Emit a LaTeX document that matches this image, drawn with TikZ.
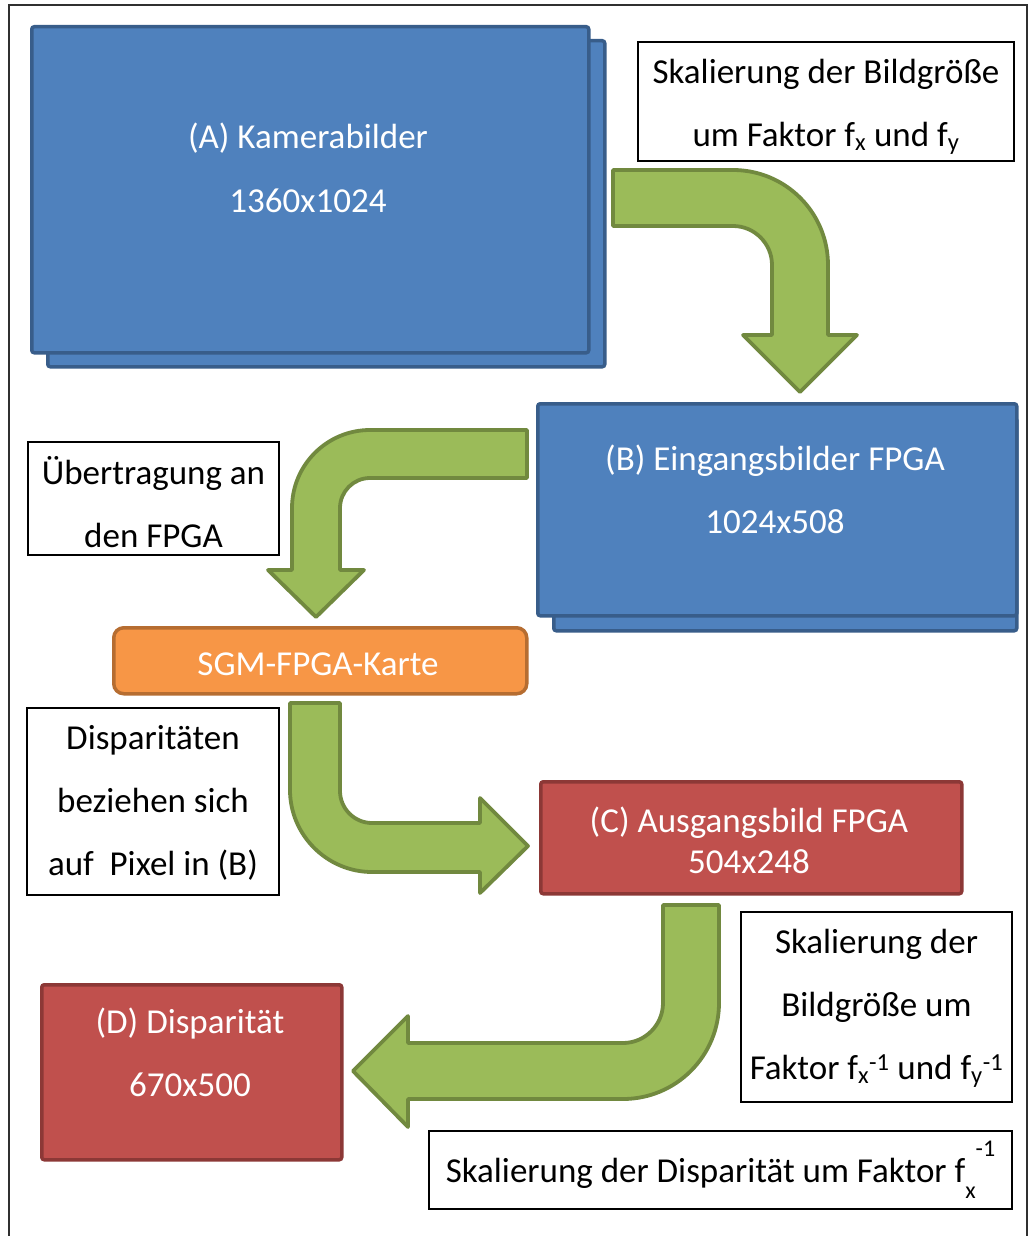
\documentclass[tikz,border=0pt]{standalone}
\usepackage{fontspec}
\setmainfont{Carlito}
\definecolor{bluefill}{HTML}{4F81BD}
\definecolor{blueline}{HTML}{385D8A}
\definecolor{orangefill}{HTML}{F79646}
\definecolor{orangeline}{HTML}{B66D31}
\definecolor{redfill}{HTML}{C0504D}
\definecolor{redline}{HTML}{8C3836}
\definecolor{greenfill}{HTML}{9BBB59}
\definecolor{greenline}{HTML}{71893F}
\definecolor{framecol}{HTML}{303030}
\newcommand\bodyfont{\fontsize{35}{63}\selectfont}
\newcommand\smallfont{\fontsize{24}{24}\selectfont}
\tikzset{
  panel/.style={line width=3.5pt, rounded corners=2.5pt, inner sep=0pt, anchor=north west},
  bluebox/.style={panel, draw=blueline, fill=bluefill},
  redbox/.style={panel, draw=redline, fill=redfill},
  cardbox/.style={panel, draw=orangeline, fill=orangefill, rounded corners=10pt},
  note/.style={draw=black, line width=1.2pt, fill=white, inner sep=0pt},
  notetext/.style={align=center, font=\bodyfont, inner sep=0pt},
  lbl/.style={text=white, font=\bodyfont, anchor=base, inner sep=0pt},
  bentarrow/.style={fill=greenfill, draw=greenline, line width=3.8pt, line join=round},
}
\begin{document}
\begin{tikzpicture}[x=1pt, y=-1pt]
\useasboundingbox (0,0) rectangle (1029,1236);
\fill[white] (0,0) rectangle (1029,1236);
% outer frame, open at the bottom
\draw[framecol, line width=2pt] (9,1236) -- (9,5) -- (1027,5) -- (1027,1236);

% (A) camera images, stacked
\node[bluebox, minimum width=557pt, minimum height=326pt] (Aback) at (46,39) {};
\node[bluebox, minimum width=557pt, minimum height=326pt] (Afront) at (30,25) {};
\node[lbl] (Atitle) at (308,149) {(A) Kamerabilder};
\node[lbl] (Asize) at (308,212) {1360x1024};

% scaling note, top right
\node[note, minimum width=376pt, minimum height=119pt] (n1) at (826,101.5) {};
\node[notetext] (n1text) at (826,107)
  {Skalierung der Bildgröße\\um Faktor f\textsubscript{x} und f\textsubscript{y}};

% (B) FPGA input images, stacked
\node[bluebox, minimum width=463pt, minimum height=213pt] (Bback) at (552,416) {};
\node[bluebox, minimum width=479pt, minimum height=212pt] (Bfront) at (536,402) {};
\node[lbl] (Btitle) at (775,470) {(B) Eingangsbilder FPGA};
\node[lbl] (Bsize) at (775,533) {1024x508};

% transfer note
\node[note, minimum width=251pt, minimum height=113pt] (n2) at (153.5,498.5) {};
\node[notetext] (n2text) at (153.5,502) {Übertragung an\\den FPGA};

% SGM card
\node[cardbox, minimum width=413pt, minimum height=66pt] (sgm) at (112,626) {};
\node[lbl] (sgmtext) at (318,675) {SGM-FPGA-Karte};

% disparity note
\node[note, minimum width=252pt, minimum height=187pt] (n3) at (153,801.5) {};
\node[notetext] (n3text) at (153,803) {Disparitäten\\beziehen sich\\auf\ \ Pixel in (B)};

% (C) FPGA output image
\node[redbox, minimum width=421pt, minimum height=112pt] (C) at (539,780) {};
\node[lbl] (Ctitle) at (749,832) {(C) Ausgangsbild FPGA};
\node[lbl] (Csize) at (749,873) {504x248};

% inverse scaling note
\node[note, minimum width=271pt, minimum height=190pt] (n4) at (876.5,1007) {};
\node[notetext] (n4text) at (876.5,1008)
  {Skalierung der\\Bildgröße um\\Faktor f\textsubscript{x}\textsuperscript{-1} und f\textsubscript{y}\textsuperscript{-1}};

% (D) disparity
\node[redbox, minimum width=300pt, minimum height=175pt] (D) at (40,983) {};
\node[lbl] (Dtitle) at (190,1033) {(D) Disparität};
\node[lbl] (Dsize) at (190,1096) {670x500};

% disparity scaling note
\node[note, minimum width=583pt, minimum height=78pt] (n5) at (720.5,1170) {};
\node[notetext] (n5text) at (720.5,1170)
  {Skalierung der Disparität um Faktor f\raisebox{-16pt}{\smallfont x}\raisebox{26pt}{\smallfont -1}};

% bent block arrows
\draw[bentarrow] (613,170) -- (733,170)
  .. controls (785.5,170) and (828,212.5) .. (828,265)
  -- (828,335) -- (857,335) -- (800,392) -- (743,335) -- (772,335) -- (772,265)
  .. controls (772,243.5) and (754.5,226) .. (733,226) -- (613,226) -- cycle;

\draw[bentarrow] (527,430) -- (370,430)
  .. controls (327,430) and (292,465) .. (292,508)
  -- (292,570) -- (268,570) -- (316,617) -- (364,570) -- (340,570) -- (340,508)
  .. controls (340,491.5) and (353.5,478) .. (370,478) -- (527,478) -- cycle;

\draw[bentarrow] (290,703) -- (340,703) -- (340,791)
  .. controls (340,808.6) and (354.4,823) .. (372,823)
  -- (480,823) -- (480,798) -- (528,846) -- (480,893) -- (480,872) -- (372,872)
  .. controls (327,872) and (290,835) .. (290,790) -- cycle;

\draw[bentarrow] (663,905) -- (719,905) -- (719,1003)
  .. controls (719,1056) and (676,1099) .. (623,1099)
  -- (408,1099) -- (408,1127) -- (353,1071) -- (408,1016) -- (408,1043) -- (623,1043)
  .. controls (645,1043) and (663,1025) .. (663,1003) -- cycle;
\end{tikzpicture}
\end{document}
